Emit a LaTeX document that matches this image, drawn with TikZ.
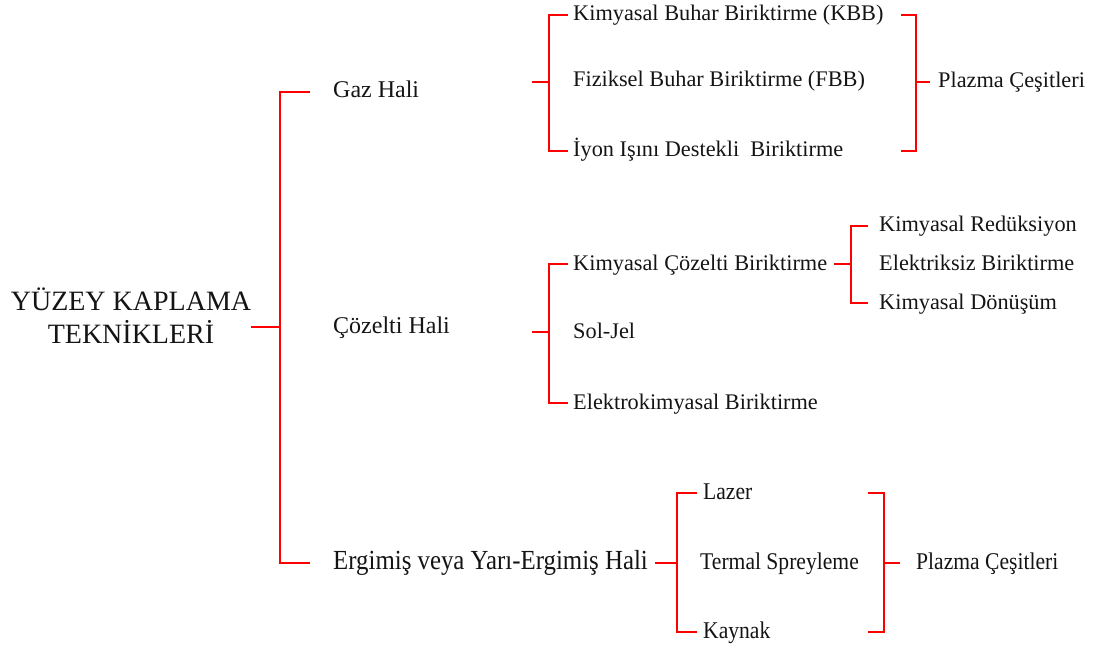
\documentclass[tikz,border=0pt]{standalone}
\usepackage{fontspec}
\setmainfont{Liberation Serif}
\newfontfamily\condfont[FakeStretch=0.9]{Liberation Serif}
\usepackage{tikz}
\usetikzlibrary{positioning}
\definecolor{linkred}{HTML}{FF0000}
\definecolor{ink}{HTML}{141414}
\tikzstyle{link} = [linkred, line width=2pt]
\tikzstyle{item} = [anchor=west, inner sep=0pt, text height=1.2em, text depth=0pt, text=ink]
\tikzstyle{lvla} = [item, font=\fontsize{24}{28}\selectfont]
\tikzstyle{lvlb} = [item, font=\fontsize{22.3}{26}\selectfont]
\tikzstyle{lvlc} = [item, font=\condfont\fontsize{24}{28}\selectfont]

\begin{document}
\begin{tikzpicture}[x=1pt,y=-1pt]
        \useasboundingbox (0,0) rectangle (1096,650);

        % Root
        \node[align=center, inner sep=0pt, text=ink, font=\fontsize{28}{33}\selectfont] (root) at (131,316) {YÜZEY KAPLAMA\\TEKNİKLERİ};

        % First level
        \node[lvla] (gaz) at (333,92) {Gaz Hali};
        \node[lvla] (coz) at (333,327) {Çözelti Hali};
        \node[lvlc, font=\condfont\fontsize{27.6}{30}\selectfont] (erg) at (333,563) {Ergimiş veya Yarı-Ergimiş Hali};

        % Gaz Hali items
        \node[lvlb] (kbb) at (573,15) {Kimyasal Buhar Biriktirme (KBB)};
        \node[lvlb] (fbb) at (573,81) {Fiziksel Buhar Biriktirme (FBB)};
        \node[lvlb] (iyon) at (573,151) {İyon Işını Destekli\ \ Biriktirme};
        \node[lvlb] (plza) at (938,82) {Plazma Çeşitleri};

        % Cozelti Hali items
        \node[lvlb] (kcb) at (573,264) {Kimyasal Çözelti Biriktirme};
        \node[lvlb] (sol) at (573,332) {Sol-Jel};
        \node[lvlb] (ekb) at (573,403) {Elektrokimyasal Biriktirme};
        \node[lvlb] (kred) at (879,226) {Kimyasal Redüksiyon};
        \node[lvlb] (elek) at (879,264) {Elektriksiz Biriktirme};
        \node[lvlb] (kdon) at (879,303) {Kimyasal Dönüşüm};

        % Ergimis Hali items
        \node[lvlc] (lazer) at (703,493) {Lazer};
        \node[lvlc] (termal) at (700,563) {Termal Spreyleme};
        \node[lvlc] (kaynak) at (703,632) {Kaynak};
        \node[lvlc] (plzb) at (916,563) {Plazma Çeşitleri};

        % Main spine
        \coordinate (sp) at (280,327);
        \draw[link] ([xshift=-23pt]gaz.west) -| (sp) |- ([xshift=-23pt]erg.west);
        \draw[link] (root.east |- sp) -- (sp);

        % Gaz Hali brackets
        \coordinate (ga) at (549,82);
        \draw[link] ([xshift=-5pt]kbb.west) -| (ga) |- ([xshift=-5pt]iyon.west);
        \draw[link] (ga) -- ++(-17,0);
        \coordinate (gb) at (916,82);
        \draw[link] (gb |- kbb.west) ++(-15,0) -- (gb |- kbb.west) -- (gb |- iyon.west) -- ++(-15,0);
        \draw[link] (gb) -- ([xshift=-8pt]plza.west);

        % Cozelti Hali brackets
        \coordinate (ca) at (549,332);
        \draw[link] ([xshift=-5pt]kcb.west) -| (ca) |- ([xshift=-5pt]ekb.west);
        \draw[link] (ca) -- ++(-17,0);
        \coordinate (cb) at (851,264);
        \draw[link] ([xshift=-11pt]kred.west) -| (cb) |- ([xshift=-11pt]kdon.west);
        \draw[link] (cb) -- ++(-17,0);

        % Ergimis Hali brackets
        \coordinate (ea) at (677,563);
        \draw[link] ([xshift=-6pt]lazer.west) -| (ea) |- ([xshift=-6pt]kaynak.west);
        \draw[link] (ea) -- ++(-22,0);
        \coordinate (eb) at (884,563);
        \draw[link] (eb |- lazer.west) ++(-16,0) -- (eb |- lazer.west) -- (eb |- kaynak.west) -- ++(-16,0);
        \draw[link] (eb) -- ([xshift=-16pt]plzb.west);
    \end{tikzpicture}
\end{document}
